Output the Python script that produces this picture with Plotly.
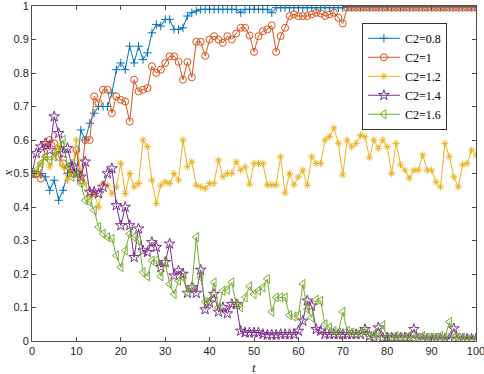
import plotly.graph_objects as go

t = list(range(0, 101))

c08 = [0.50, 0.50, 0.50, 0.49, 0.45, 0.48, 0.42, 0.45, 0.50, 0.53, 0.50,
       0.63, 0.60, 0.65, 0.68, 0.70, 0.70, 0.70, 0.74, 0.81, 0.83,
       0.81, 0.88, 0.83, 0.88, 0.84, 0.86, 0.92, 0.945, 0.94, 0.96,
       0.96, 0.93, 0.93, 0.935, 0.97, 0.98, 0.985, 0.99, 0.99, 0.99,
       0.99, 0.99, 0.99, 0.99, 0.99, 0.99, 0.98, 0.99, 0.99, 0.99,
       0.99, 0.99, 0.99, 0.98, 0.995, 0.995, 0.995, 0.995, 0.995, 0.995,
       0.995, 0.995, 0.995, 0.995, 0.995, 0.995, 0.995, 0.995, 0.995, 0.995,
       0.998, 0.998, 0.998, 0.998, 0.998, 0.998, 0.998, 0.998, 0.998, 0.998,
       0.998, 0.998, 0.998, 0.998, 0.998, 0.998, 0.998, 0.998, 0.998, 0.998,
       0.998, 0.998, 0.998, 0.998, 0.998, 0.998, 0.998, 0.998, 0.998, 0.998]

c10 = [0.50, 0.50, 0.485, 0.585, 0.60, 0.59, 0.55, 0.53, 0.51, 0.50, 0.57,
       0.48, 0.60, 0.60, 0.73, 0.71, 0.75, 0.75, 0.68, 0.73, 0.72,
       0.715, 0.655, 0.78, 0.745, 0.75, 0.755, 0.82, 0.80, 0.81, 0.83,
       0.85, 0.85, 0.833, 0.78, 0.833, 0.787, 0.893, 0.893, 0.851, 0.90,
       0.91, 0.90, 0.89, 0.91, 0.90, 0.918, 0.935, 0.935, 0.912, 0.863,
       0.91, 0.925, 0.93, 0.942, 0.863, 0.91, 0.935, 0.97, 0.975, 0.97,
       0.97, 0.97, 0.975, 0.98, 0.978, 0.97, 0.975, 0.98, 0.965, 0.948,
       0.995, 0.995, 0.995, 0.995, 0.995, 0.995, 0.995, 0.995, 0.995, 0.995,
       0.995, 0.995, 0.995, 0.995, 0.995, 0.995, 0.995, 0.995, 0.995, 0.995,
       0.995, 0.995, 0.995, 0.995, 0.995, 0.995, 0.995, 0.995, 0.995, 0.995]

c12 = [0.50, 0.50, 0.53, 0.55, 0.52, 0.56, 0.58, 0.52, 0.48, 0.50, 0.60,
       0.50, 0.47, 0.43, 0.44, 0.40, 0.47, 0.465, 0.44, 0.46, 0.53,
       0.44, 0.50, 0.46, 0.47, 0.60, 0.58, 0.48, 0.41, 0.465, 0.475,
       0.47, 0.50, 0.48, 0.60, 0.52, 0.535, 0.465, 0.46, 0.455, 0.47,
       0.47, 0.54, 0.49, 0.50, 0.50, 0.535, 0.51, 0.52, 0.468, 0.53,
       0.53, 0.53, 0.466, 0.466, 0.466, 0.55, 0.442, 0.50, 0.466, 0.49,
       0.51, 0.465, 0.55, 0.53, 0.53, 0.60, 0.61, 0.636, 0.59, 0.496,
       0.60, 0.58, 0.59, 0.614, 0.61, 0.547, 0.60, 0.575, 0.60, 0.58,
       0.50, 0.59, 0.526, 0.51, 0.486, 0.51, 0.51, 0.555, 0.51, 0.51,
       0.474, 0.46, 0.59, 0.55, 0.49, 0.46, 0.526, 0.53, 0.57, 0.555]

c14 = [0.50, 0.56, 0.58, 0.59, 0.57, 0.67, 0.62, 0.56, 0.575, 0.52, 0.50,
       0.49, 0.535, 0.445, 0.445, 0.44, 0.46, 0.50, 0.515, 0.405, 0.345,
       0.40, 0.345, 0.25, 0.335, 0.27, 0.265, 0.295, 0.28, 0.22, 0.235,
       0.29, 0.195, 0.21, 0.20, 0.143, 0.16, 0.143, 0.212, 0.094, 0.114,
       0.14, 0.087, 0.10, 0.082, 0.11, 0.11, 0.03, 0.025, 0.025, 0.025,
       0.025, 0.02, 0.018, 0.018, 0.018, 0.02, 0.02, 0.02, 0.02, 0.03,
       0.06, 0.12, 0.105, 0.035, 0.03, 0.02, 0.02, 0.02, 0.02, 0.02,
       0.02, 0.02, 0.02, 0.02, 0.035, 0.015, 0.01, 0.04, 0.01, 0.01,
       0.01, 0.01, 0.01, 0.01, 0.01, 0.035, 0.006, 0.006, 0.006, 0.006,
       0.006, 0.006, 0.006, 0.006, 0.037, 0.006, 0.006, 0.006, 0.006, 0.006]

c16 = [0.50, 0.51, 0.53, 0.55, 0.54, 0.55, 0.57, 0.60, 0.52, 0.49, 0.50,
       0.47, 0.42, 0.415, 0.39, 0.34, 0.32, 0.31, 0.305, 0.255, 0.22,
       0.27, 0.32, 0.31, 0.30, 0.205, 0.193, 0.24, 0.24, 0.193, 0.235,
       0.17, 0.14, 0.18, 0.19, 0.145, 0.16, 0.31, 0.19, 0.116, 0.12,
       0.175, 0.10, 0.15, 0.153, 0.175, 0.11, 0.10, 0.13, 0.163, 0.14,
       0.15, 0.16, 0.185, 0.087, 0.13, 0.13, 0.13, 0.077, 0.073, 0.077,
       0.17, 0.095, 0.07, 0.123, 0.12, 0.05, 0.04, 0.03, 0.025, 0.087,
       0.03, 0.025, 0.02, 0.025, 0.03, 0.015, 0.02, 0.015, 0.047, 0.01,
       0.01, 0.015, 0.01, 0.01, 0.015, 0.01, 0.01, 0.015, 0.01, 0.01,
       0.01, 0.015, 0.01, 0.057, 0.01, 0.01, 0.01, 0.005, 0.005, 0.005]

names = ["C2=0.8", "C2=1", "C2=1.2", "C2=1.4", "C2=1.6"]
series = [c08, c10, c12, c14, c16]
colors = ["#0072BD", "#D95319", "#EDB120", "#7E2F8E", "#77AC30"]
symbols = ["cross-thin-open", "circle-open", "asterisk-open", "star-open", "triangle-left-open"]
sizes = [6, 7, 6, 8, 8]

xticks = list(range(0, 101, 10))
yticks = [0, 0.1, 0.2, 0.3, 0.4, 0.5, 0.6, 0.7, 0.8, 0.9, 1]

fig = go.Figure()
for name, ys, col, sym, sz in zip(names, series, colors, symbols, sizes):
    fig.add_trace(go.Scatter(
        x=t, y=ys, name=name, mode="lines+markers",
        line=dict(color=col, width=1),
        marker=dict(symbol=sym, size=sz, color=col, line=dict(color=col, width=1)),
    ))

axis_common = dict(
    showline=True, linecolor="#4d4d4d", linewidth=1, mirror="ticks",
    ticks="inside", ticklen=4, tickcolor="#4d4d4d", tickwidth=1,
    showgrid=False, zeroline=False, automargin=False,
    ticklabeloverflow="allow",
    tickfont=dict(family="Liberation Sans, Arial", size=11, color="#262626"),
)

title_font = dict(family="Liberation Serif, Times New Roman", size=13, color="#262626")

fig.update_layout(
    width=484, height=374,
    margin=dict(l=32, r=8, t=6, b=33),
    plot_bgcolor="white", paper_bgcolor="white",
    xaxis=dict(range=[0, 100], tickvals=xticks, **axis_common),
    yaxis=dict(range=[0, 1], tickvals=yticks, **axis_common),
    legend=dict(x=0.743, y=0.95, xanchor="left", yanchor="top",
                bgcolor="white", bordercolor="#333333", borderwidth=1,
                font=dict(family="Liberation Serif, Times New Roman", size=12, color="black"),
                itemwidth=32, tracegroupgap=0),
    annotations=[
        dict(text="<i>t</i>", xref="paper", yref="paper", x=0.5, y=-0.08,
             xanchor="center", yanchor="middle", showarrow=False, font=title_font),
        dict(text="<i>x</i>", xref="paper", yref="paper", x=-0.056, y=0.5,
             xanchor="center", yanchor="middle", showarrow=False, textangle=-90,
             font=title_font),
    ],
)

fig.write_html("out.html", config={"displayModeBar": False},
               post_script="document.body.style.margin='0';")
